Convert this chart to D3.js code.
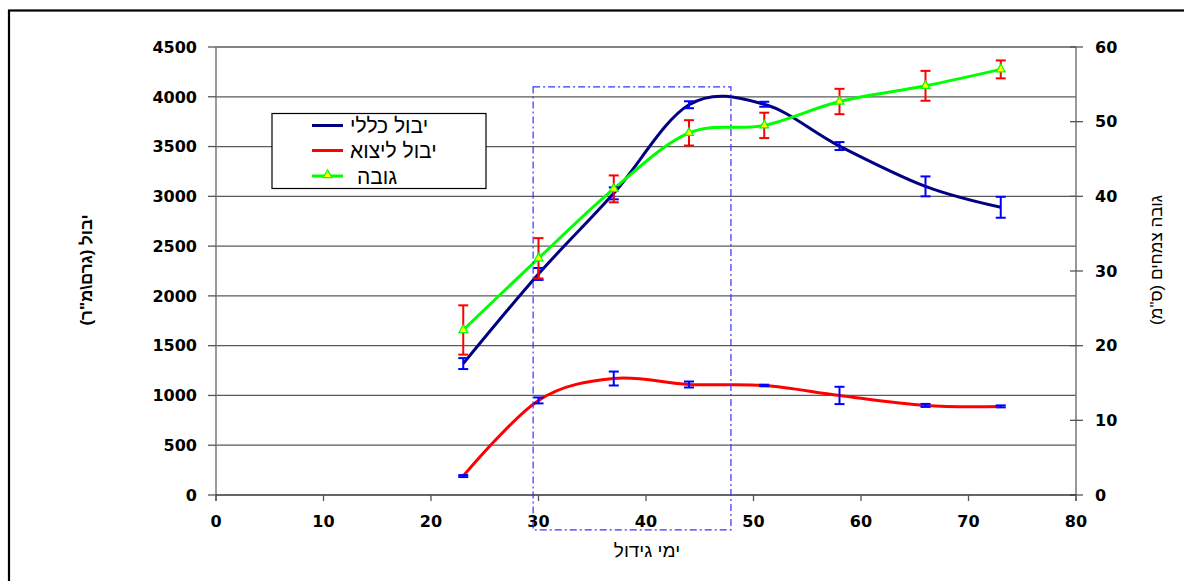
<!DOCTYPE html>
<html>
<head>
<meta charset="utf-8">
<script src="https://cdn.jsdelivr.net/npm/d3@7/dist/d3.min.js"></script>
<style>
  html, body { margin: 0; padding: 0; background: #fff; }
  svg { display: block; }
</style>
</head>
<body>
<svg id="chart" width="1184" height="581"></svg>
<script>
// Growing days (x values)
const days = [23, 30, 37, 44, 51, 58, 66, 73];

// Total yield (g/m²) and its error
const totalYield = [1320, 2220, 3030, 3920, 3925, 3505, 3100, 2890];
const totalYieldErr = [55, 60, 60, 35, 25, 40, 100, 105];

// Export yield (g/m²) and its error
const exportYield = [190, 950, 1170, 1110, 1100, 1000, 900, 890];
const exportYieldErr = [10, 30, 70, 30, 8, 87, 15, 10];

// Plant height (cm, right axis) and its error
const plantHeight = [22.1, 31.7, 41.0, 48.5, 49.5, 52.7, 54.8, 57.0];
const plantHeightErr = [3.3, 2.7, 1.8, 1.7, 1.7, 1.7, 2.0, 1.2];

// Axis ticks
const xTicks = [0, 10, 20, 30, 40, 50, 60, 70, 80];
const yLeftTicks = [0, 500, 1000, 1500, 2000, 2500, 3000, 3500, 4000, 4500];
const yRightTicks = [0, 10, 20, 30, 40, 50, 60];

// Legend entries
const legendLabels = ["יבול כללי", "יבול ליצוא", "גובה"];

// Highlighted growth window (dash-dot box), in data units
const windowDays = [29.5, 47.9];
const windowYield = [4100, -350];

const svg = d3.select("#chart");

const x = d3.scaleLinear().domain([0, 80]).range([216, 1076]);
const yL = d3.scaleLinear().domain([0, 4500]).range([495, 47]);
const yR = d3.scaleLinear().domain([0, 60]).range([495, 47]);

const tickFont = "'DejaVu Sans', Verdana, sans-serif";
const hebFont = "'Liberation Sans', Arial, 'DejaVu Sans', sans-serif";

// Outer frame
svg.append("rect")
  .attr("x", 9).attr("y", 10.5)
  .attr("width", 1300).attr("height", 700)
  .attr("fill", "none").attr("stroke", "#000").attr("stroke-width", 2.2);

// Horizontal gridlines
svg.append("g").selectAll("line")
  .data(yLeftTicks.filter(d => d > 0))
  .join("line")
  .attr("x1", x(0)).attr("x2", x(80))
  .attr("y1", d => yL(d)).attr("y2", d => yL(d))
  .attr("stroke", "#5a5a5a").attr("stroke-width", 1.3);

// Left axis
const leftAxis = svg.append("g");
leftAxis.append("line")
  .attr("x1", x(0)).attr("x2", x(0))
  .attr("y1", yL(4500)).attr("y2", yL(0) + 6)
  .attr("stroke", "#777").attr("stroke-width", 1.5);
leftAxis.selectAll("line.tick")
  .data(yLeftTicks).join("line").attr("class", "tick")
  .attr("x1", x(0) - 8).attr("x2", x(0))
  .attr("y1", d => yL(d)).attr("y2", d => yL(d))
  .attr("stroke", "#555").attr("stroke-width", 1.3);
leftAxis.selectAll("text")
  .data(yLeftTicks).join("text")
  .attr("x", 197).attr("y", d => yL(d))
  .attr("dy", "0.36em")
  .attr("text-anchor", "end")
  .attr("font-family", tickFont).attr("font-weight", "bold").attr("font-size", 16)
  .attr("fill", "#000")
  .text(d => d);

// Right axis
const rightAxis = svg.append("g");
rightAxis.append("line")
  .attr("x1", x(80)).attr("x2", x(80))
  .attr("y1", yR(60)).attr("y2", yR(0) + 6)
  .attr("stroke", "#777").attr("stroke-width", 1.5);
rightAxis.selectAll("line.tick")
  .data(yRightTicks).join("line").attr("class", "tick")
  .attr("x1", x(80) - 6).attr("x2", x(80) + 7)
  .attr("y1", d => yR(d)).attr("y2", d => yR(d))
  .attr("stroke", "#555").attr("stroke-width", 1.3);
rightAxis.selectAll("text")
  .data(yRightTicks).join("text")
  .attr("x", 1095).attr("y", d => yR(d))
  .attr("dy", "0.36em")
  .attr("text-anchor", "start")
  .attr("font-family", tickFont).attr("font-weight", "bold").attr("font-size", 16)
  .attr("fill", "#000")
  .text(d => d);

// Bottom axis
const bottomAxis = svg.append("g");
bottomAxis.append("line")
  .attr("x1", x(0)).attr("x2", x(80))
  .attr("y1", yL(0)).attr("y2", yL(0))
  .attr("stroke", "#333").attr("stroke-width", 1.4);
bottomAxis.selectAll("line.tick")
  .data(xTicks).join("line").attr("class", "tick")
  .attr("x1", d => x(d)).attr("x2", d => x(d))
  .attr("y1", yL(0)).attr("y2", yL(0) + 6)
  .attr("stroke", "#555").attr("stroke-width", 1.3);
bottomAxis.selectAll("text")
  .data(xTicks).join("text")
  .attr("x", d => x(d)).attr("y", 527)
  .attr("text-anchor", "middle")
  .attr("font-family", tickFont).attr("font-weight", "bold").attr("font-size", 16)
  .attr("fill", "#000")
  .text(d => d);

// Axis titles
svg.append("text")
  .attr("transform", `translate(92,270) rotate(-90)`)
  .attr("direction", "rtl")
  .attr("text-anchor", "middle")
  .attr("font-family", hebFont).attr("font-weight", "bold").attr("font-size", 17)
  .text("יבול (גרם\\מ\"ר)");

svg.append("text")
  .attr("transform", `translate(1162,260) rotate(-90)`)
  .attr("direction", "rtl")
  .attr("text-anchor", "middle")
  .attr("font-family", hebFont).attr("font-size", 17)
  .text("גובה צמחים (ס\"מ)");

svg.append("text")
  .attr("x", 647).attr("y", 557)
  .attr("direction", "rtl")
  .attr("text-anchor", "middle")
  .attr("font-family", hebFont).attr("font-size", 19)
  .text("ימי גידול");

// Smoothed series lines
const curve = d3.curveCardinal.tension(0);
const lineL = d3.line().x(d => x(d[0])).y(d => yL(d[1])).curve(curve);
const lineR = d3.line().x(d => x(d[0])).y(d => yR(d[1])).curve(curve);

svg.append("path")
  .attr("d", lineL(days.map((d, i) => [d, totalYield[i]])))
  .attr("fill", "none").attr("stroke", "#000080").attr("stroke-width", 3);

svg.append("path")
  .attr("d", lineL(days.map((d, i) => [d, exportYield[i]])))
  .attr("fill", "none").attr("stroke", "#ff0000").attr("stroke-width", 3);

svg.append("path")
  .attr("d", lineR(days.map((d, i) => [d, plantHeight[i]])))
  .attr("fill", "none").attr("stroke", "#00ff00").attr("stroke-width", 3);

// Error bars
function errorBars(values, errs, scale, color) {
  const g = svg.append("g").attr("stroke", color).attr("stroke-width", 2).attr("fill", "none");
  days.forEach((d, i) => {
    const cx = x(d), top = scale(values[i] + errs[i]), bot = scale(values[i] - errs[i]);
    g.append("line").attr("x1", cx).attr("x2", cx).attr("y1", top).attr("y2", bot);
    g.append("line").attr("x1", cx - 5).attr("x2", cx + 5).attr("y1", top).attr("y2", top);
    g.append("line").attr("x1", cx - 5).attr("x2", cx + 5).attr("y1", bot).attr("y2", bot);
  });
}
errorBars(totalYield, totalYieldErr, yL, "#0000ff");
errorBars(exportYield, exportYieldErr, yL, "#0000ff");
errorBars(plantHeight, plantHeightErr, yR, "#ff0000");

// Triangle markers on the height series
const tri = d3.symbol().type(d3.symbolTriangle).size(34);
svg.append("g").selectAll("path")
  .data(days.map((d, i) => [d, plantHeight[i]]))
  .join("path")
  .attr("d", tri)
  .attr("transform", d => `translate(${x(d[0])},${yR(d[1])})`)
  .attr("fill", "#ffff00").attr("stroke", "#00ff00").attr("stroke-width", 1.2);

// Dash-dot window box
svg.append("rect")
  .attr("x", x(windowDays[0])).attr("y", yL(windowYield[0]))
  .attr("width", x(windowDays[1]) - x(windowDays[0]))
  .attr("height", yL(windowYield[1]) - yL(windowYield[0]))
  .attr("fill", "none").attr("stroke", "#3333ff").attr("stroke-width", 1.2)
  .attr("stroke-dasharray", "7 3 2 3");

// Legend
const legend = svg.append("g");
legend.append("rect")
  .attr("x", 272).attr("y", 113.5).attr("width", 214).attr("height", 75)
  .attr("fill", "#fff").attr("stroke", "#000").attr("stroke-width", 1.2);
const legendColors = ["#000080", "#ff0000", "#00ff00"];
const legendY = [125.5, 150.5, 176];
legendLabels.forEach((label, i) => {
  legend.append("line")
    .attr("x1", 312).attr("x2", 343)
    .attr("y1", legendY[i]).attr("y2", legendY[i])
    .attr("stroke", legendColors[i]).attr("stroke-width", 3);
  legend.append("text")
    .attr("x", i === 2 ? 357 : 350).attr("y", legendY[i])
    .attr("dy", "0.36em")
    .attr("font-family", hebFont).attr("font-size", 21)
    .attr("fill", "#000")
    .text(label);
});
legend.append("path")
  .attr("d", tri)
  .attr("transform", `translate(327.5,${legendY[2] - 1})`)
  .attr("fill", "#ffff00").attr("stroke", "#00ff00").attr("stroke-width", 1.2);
</script>
</body>
</html>
